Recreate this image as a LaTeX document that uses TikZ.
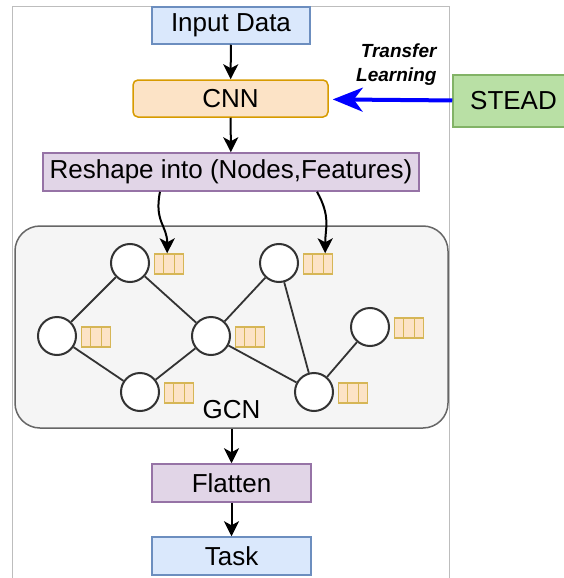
\documentclass[tikz,border=0pt]{standalone}
\usepackage{fontspec}
\setmainfont{Liberation Sans}
\usetikzlibrary{positioning,arrows.meta}

\definecolor{bluefill}{HTML}{DAE8FC}
\definecolor{bluedraw}{HTML}{6C8EBF}
\definecolor{orangefill}{HTML}{FCE3C6}
\definecolor{orangedraw}{HTML}{D79B00}
\definecolor{purplefill}{HTML}{E1D5E7}
\definecolor{purpledraw}{HTML}{9673A6}
\definecolor{greenfill}{HTML}{B9E0A5}
\definecolor{greendraw}{HTML}{82B366}
\definecolor{gcnfill}{HTML}{F5F5F5}
\definecolor{gcndraw}{HTML}{666666}
\definecolor{featdraw}{HTML}{D6B656}
\definecolor{framegray}{HTML}{BDBDBD}
\definecolor{edgegray}{HTML}{333333}

\begin{document}
\begin{tikzpicture}[x=1pt,y=-1pt,
    every node/.style={font=\fontsize{26}{31}\selectfont},
    block/.style={draw,line width=1.5pt,inner sep=0pt,minimum height=37pt},
    bluebox/.style={block,fill=bluefill,draw=bluedraw,minimum width=158pt},
    purplebox/.style={block,fill=purplefill,draw=purpledraw},
    gnode/.style={circle,draw=edgegray,fill=white,line width=2pt,minimum size=38pt,inner sep=0pt},
    feat/.style={draw=featdraw,fill=orangefill,line width=1.4pt,minimum width=29pt,minimum height=20pt,inner sep=0pt},
    edge/.style={draw=edgegray,line width=1.8pt},
    flow/.style={line width=2pt,-{Stealth[length=15pt,width=15pt,inset=4pt]}}]
        \useasboundingbox (0,0) rectangle (564,578);

        % Outer frame
        \draw[framegray,line width=1pt] (12.5,578) -- (12.5,6.5) -- (449,6.5) -- (449,578);

        % Pipeline boxes
        \node[bluebox] (input) at (231,25.5) {Input Data};
        \node[block,fill=orangefill,draw=orangedraw,rounded corners=5pt,minimum width=195pt] (cnn) at (230.5,98.5) {CNN};
        \node[block,fill=greenfill,draw=greendraw,minimum width=121pt,minimum height=52pt] (stead) at (513.5,101) {STEAD};
        \node[purplebox,minimum width=376pt,minimum height=38pt] (reshape) at (231,172) {Reshape into (Nodes,Features)};

        % GCN container
        \node[draw=gcndraw,fill=gcnfill,line width=1.5pt,rounded corners=25pt,minimum width=433pt,minimum height=202pt] (gcn) at (231.5,327) {};
        \node (gcnlabel) at (231.5,410) {GCN};

        \node[purplebox,minimum width=159pt,minimum height=38pt] (flatten) at (231.5,483) {Flatten};
        \node[bluebox,minimum width=159pt,minimum height=38pt] (task) at (231.5,556) {Task};

        % Transfer learning
        \node[anchor=east,align=right,font=\fontsize{19}{24}\selectfont\bfseries\itshape] (transfer) at (440,65) {Transfer\\Learning};
        \draw[blue,line width=4pt,-{Stealth[length=30pt,width=24pt,inset=9pt]},shorten >=4pt] (stead) -- (cnn);

        % Graph nodes
        \node[gnode] (n1) at (130,263) {};
        \node[gnode] (n2) at (57,336) {};
        \node[gnode] (n3) at (140,392) {};
        \node[gnode] (n4) at (211,336) {};
        \node[gnode] (n5) at (279,263) {};
        \node[gnode] (n6) at (370,327) {};
        \node[gnode] (n7) at (314,392) {};

        % Graph edges
        \foreach \a/\b in {1/2,1/4,2/3,3/4,4/5,4/7,5/7,6/7}
            \draw[edge] (n\a) -- (n\b);

        % Feature vectors
        \foreach \i in {1,...,7}{
            \node[feat,right=4pt of n\i,yshift=-1pt] (f\i) {};
            \draw[featdraw,line width=1.4pt] ([xshift=9.7pt]f\i.north west) -- ([xshift=9.7pt]f\i.south west);
            \draw[featdraw,line width=1.4pt] ([xshift=-9.7pt]f\i.north east) -- ([xshift=-9.7pt]f\i.south east);
        }

        % Flow arrows
        \draw[flow] (input) -- (cnn);
        \draw[flow] (cnn) -- (reshape);
        \draw[flow] ([xshift=-71pt]reshape.south) .. controls +(-6,30) and +(0,-28) .. ([xshift=-2pt]f1.north);
        \draw[flow] ([xshift=86pt]reshape.south) .. controls +(14,25) and +(0,-25) .. ([xshift=7pt]f5.north);
        \draw[flow] (gcn) -- (flatten);
        \draw[flow] (flatten) -- (task);
\end{tikzpicture}
\end{document}
